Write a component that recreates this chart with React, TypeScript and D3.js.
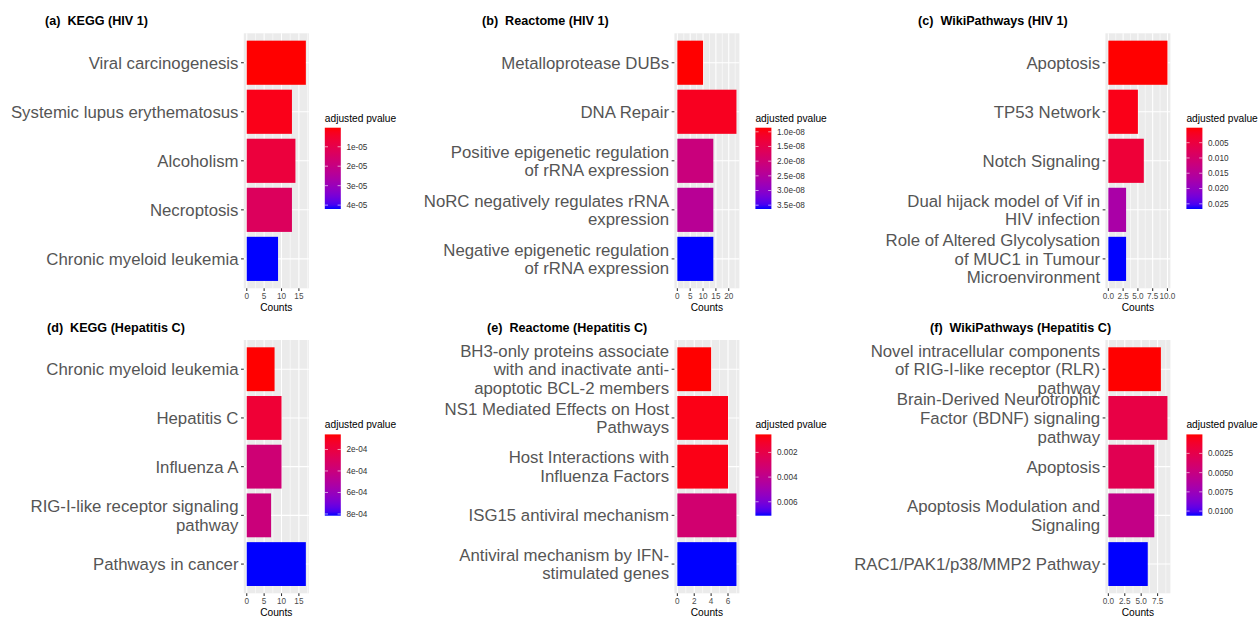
import React from "react";
import * as d3 from "d3";

// ---------- DATA ----------
const panelTitles = [
  "(a)  KEGG (HIV 1)",
  "(b)  Reactome (HIV 1)",
  "(c)  WikiPathways (HIV 1)",
  "(d)  KEGG (Hepatitis C)",
  "(e)  Reactome (Hepatitis C)",
  "(f)  WikiPathways (Hepatitis C)",
];

const keggHivTerms = [
  "Viral carcinogenesis",
  "Systemic lupus erythematosus",
  "Alcoholism",
  "Necroptosis",
  "Chronic myeloid leukemia",
];
const keggHivCounts = [17, 13, 14, 13, 9];
const keggHivPadj = [2e-7, 2.2e-6, 7.5e-6, 1.3e-5, 4.2e-5];
const keggHivBreaks = [1e-5, 2e-5, 3e-5, 4e-5];
const keggHivBreakLabels = ["1e-05", "2e-05", "3e-05", "4e-05"];
const keggHivXTicks = [0, 5, 10, 15];
const keggHivXLabels = ["0", "5", "10", "15"];

const reactomeHivTerms = [
  "Metalloprotease DUBs",
  "DNA Repair",
  "Positive epigenetic regulation\nof rRNA expression",
  "NoRC negatively regulates rRNA\nexpression",
  "Negative epigenetic regulation\nof rRNA expression",
];
const reactomeHivCounts = [10, 23, 14, 14, 14];
const reactomeHivPadj = [0.86e-8, 1.05e-8, 2.1e-8, 2.4e-8, 3.63e-8];
const reactomeHivBreaks = [1.0e-8, 1.5e-8, 2.0e-8, 2.5e-8, 3.0e-8, 3.5e-8];
const reactomeHivBreakLabels = ["1.0e-08", "1.5e-08", "2.0e-08", "2.5e-08", "3.0e-08", "3.5e-08"];
const reactomeHivXTicks = [0, 5, 10, 15, 20];
const reactomeHivXLabels = ["0", "5", "10", "15", "20"];

const wikiHivTerms = [
  "Apoptosis",
  "TP53 Network",
  "Notch Signaling",
  "Dual hijack model of Vif in\nHIV infection",
  "Role of Altered Glycolysation\nof MUC1 in Tumour\nMicroenvironment",
];
const wikiHivCounts = [10, 5, 6, 3, 3];
const wikiHivPadj = [0.0001, 0.0013, 0.0042, 0.017, 0.0267];
const wikiHivBreaks = [0.005, 0.01, 0.015, 0.02, 0.025];
const wikiHivBreakLabels = ["0.005", "0.010", "0.015", "0.020", "0.025"];
const wikiHivXTicks = [0, 2.5, 5, 7.5, 10];
const wikiHivXLabels = ["0.0", "2.5", "5.0", "7.5", "10.0"];

const keggHcvTerms = [
  "Chronic myeloid leukemia",
  "Hepatitis C",
  "Influenza A",
  "RIG-I-like receptor signaling\npathway",
  "Pathways in cancer",
];
const keggHcvCounts = [8, 10, 10, 7, 17];
const keggHcvPadj = [6e-5, 1.7e-4, 3.7e-4, 3.9e-4, 8.16e-4];
const keggHcvBreaks = [2e-4, 4e-4, 6e-4, 8e-4];
const keggHcvBreakLabels = ["2e-04", "4e-04", "6e-04", "8e-04"];
const keggHcvXTicks = [0, 5, 10, 15];
const keggHcvXLabels = ["0", "5", "10", "15"];

const reactomeHcvTerms = [
  "BH3-only proteins associate\nwith and inactivate anti-\napoptotic BCL-2 members",
  "NS1 Mediated Effects on Host\nPathways",
  "Host Interactions with\nInfluenza Factors",
  "ISG15 antiviral mechanism",
  "Antiviral mechanism by IFN-\nstimulated genes",
];
const reactomeHcvCounts = [4, 6, 6, 7, 7];
const reactomeHcvPadj = [0.00054, 0.0008, 0.0008, 0.0031, 0.00713];
const reactomeHcvBreaks = [0.002, 0.004, 0.006];
const reactomeHcvBreakLabels = ["0.002", "0.004", "0.006"];
const reactomeHcvXTicks = [0, 2, 4, 6];
const reactomeHcvXLabels = ["0", "2", "4", "6"];

const wikiHcvTerms = [
  "Novel intracellular components\nof RIG-I-like receptor (RLR)\npathway",
  "Brain-Derived Neurotrophic\nFactor (BDNF) signaling\npathway",
  "Apoptosis",
  "Apoptosis Modulation and\nSignaling",
  "RAC1/PAK1/p38/MMP2 Pathway",
];
const wikiHcvCounts = [8, 9, 7, 7, 6];
const wikiHcvPadj = [0.00003, 0.0022, 0.0028, 0.0052, 0.0106];
const wikiHcvBreaks = [0.0025, 0.005, 0.0075, 0.01];
const wikiHcvBreakLabels = ["0.0025", "0.0050", "0.0075", "0.0100"];
const wikiHcvXTicks = [0, 2.5, 5, 7.5];
const wikiHcvXLabels = ["0.0", "2.5", "5.0", "7.5"];

// ---------- LAYOUT ----------
const W = 1258;
const H = 618;
const FONT = "'Liberation Sans', Arial, Helvetica, sans-serif";
const PLOT_W = 65;
const LOW = "#FF0000";
const HIGH = "#0000FF";

type Layout = { plotLeft: number; plotTop: number; plotH: number; titleX: number; titleY: number };
const layouts: Layout[] = [
  { plotLeft: 243.8, plotTop: 33.3, plotH: 255, titleX: 45, titleY: 24.5 },
  { plotLeft: 674.4, plotTop: 33.3, plotH: 255, titleX: 482, titleY: 24.5 },
  { plotLeft: 1105.4, plotTop: 33.3, plotH: 255, titleX: 918, titleY: 24.5 },
  { plotLeft: 243.8, plotTop: 340, plotH: 253.3, titleX: 47, titleY: 331.5 },
  { plotLeft: 674.4, plotTop: 340, plotH: 253.3, titleX: 487, titleY: 331.5 },
  { plotLeft: 1105.4, plotTop: 340, plotH: 253.3, titleX: 930, titleY: 331.5 },
];

type PanelProps = {
  id: string;
  title: string;
  terms: string[];
  counts: number[];
  padj: number[];
  breaks: number[];
  breakLabels: string[];
  xTicks: number[];
  xLabels: string[];
  layout: Layout;
};

function Panel(p: PanelProps) {
  const { plotLeft, plotTop, plotH, titleX, titleY } = p.layout;
  const plotRight = plotLeft + PLOT_W;
  const plotBottom = plotTop + plotH;
  const maxC = d3.max(p.counts) as number;
  const x = d3.scaleLinear().domain([-0.05 * maxC, 1.05 * maxC]).range([plotLeft, plotRight]);
  const y = d3
    .scaleBand<string>()
    .domain(p.terms)
    .range([plotTop, plotBottom])
    .paddingInner(0.1)
    .paddingOuter(0.15);
  const pMin = d3.min(p.padj) as number;
  const pMax = d3.max(p.padj) as number;
  const color = d3
    .scaleLinear<string>()
    .domain([pMin, pMax])
    .range([LOW, HIGH])
    .interpolate(d3.interpolateLab);

  const step = p.xTicks[1] - p.xTicks[0];
  const [d0, d1] = x.domain();
  const minor: number[] = [];
  for (let v = p.xTicks[0] - step / 2; v <= d1; v += step) {
    if (v >= d0) minor.push(v);
  }

  const legLeft = plotRight + 16;
  const legW = 16;
  const barTop = plotTop + 94.4;
  const barH = 81.3;
  const ly = d3.scaleLinear().domain([pMin, pMax]).range([barTop, barTop + barH]);
  const gradId = `grad-${p.id}`;
  const stops = d3.range(0, 1.0001, 0.05);

  const fs = 16.8;
  const lineH = 18.6;

  return (
    <g>
      <text
        x={titleX}
        y={titleY}
        fontFamily={FONT}
        fontWeight="bold"
        fontSize={12.6}
        fill="#000"
        style={{ whiteSpace: "pre" }}
        xmlSpace="preserve"
      >
        {p.title}
      </text>
      {/* panel background */}
      <rect x={plotLeft} y={plotTop} width={PLOT_W} height={plotH} fill="#EBEBEB" />
      {minor.map((v) => (
        <line key={"mn" + v} x1={x(v)} x2={x(v)} y1={plotTop} y2={plotBottom} stroke="#fff" strokeWidth={0.55} />
      ))}
      {p.xTicks.map((v) => (
        <line key={"mj" + v} x1={x(v)} x2={x(v)} y1={plotTop} y2={plotBottom} stroke="#fff" strokeWidth={1.07} />
      ))}
      {p.terms.map((t) => {
        const cy = (y(t) as number) + y.bandwidth() / 2;
        return <line key={"hg" + t} x1={plotLeft} x2={plotRight} y1={cy} y2={cy} stroke="#fff" strokeWidth={1.07} />;
      })}
      {/* bars */}
      {p.terms.map((t, i) => (
        <rect
          key={"bar" + t}
          x={x(0)}
          y={y(t) as number}
          width={x(p.counts[i]) - x(0)}
          height={y.bandwidth()}
          fill={color(p.padj[i])}
        />
      ))}
      {/* y axis */}
      {p.terms.map((t) => {
        const cy = (y(t) as number) + y.bandwidth() / 2;
        const lines = t.split("\n");
        const n = lines.length;
        return (
          <g key={"yl" + t}>
            <line x1={plotLeft - 2.75} x2={plotLeft} y1={cy} y2={cy} stroke="#333333" strokeWidth={1.07} />
            <text x={plotLeft - 5.3} textAnchor="end" fontFamily={FONT} fontSize={fs} fill="#555555">
              {lines.map((ln, k) => (
                <tspan key={k} x={plotLeft - 5.3} y={cy + 6 + (k - (n - 1) / 2) * lineH}>
                  {ln}
                </tspan>
              ))}
            </text>
          </g>
        );
      })}
      {/* x axis */}
      {p.xTicks.map((v, i) => (
        <g key={"xt" + v}>
          <line x1={x(v)} x2={x(v)} y1={plotBottom} y2={plotBottom + 2.75} stroke="#333333" strokeWidth={1.07} />
          <text x={x(v)} y={plotBottom + 10.5} textAnchor="middle" fontFamily={FONT} fontSize={8.2} fill="#4D4D4D">
            {p.xLabels[i]}
          </text>
        </g>
      ))}
      <text
        x={(plotLeft + plotRight) / 2}
        y={plotBottom + 22.3}
        textAnchor="middle"
        fontFamily={FONT}
        fontSize={10.2}
        fill="#000"
      >
        Counts
      </text>
      {/* legend */}
      <defs>
        <linearGradient id={gradId} x1="0" y1="0" x2="0" y2="1">
          {stops.map((s) => (
            <stop key={s} offset={s} stopColor={d3.interpolateLab(LOW, HIGH)(s)} />
          ))}
        </linearGradient>
      </defs>
      <text x={legLeft} y={barTop - 6.2} fontFamily={FONT} fontSize={10.2} fill="#000">
        adjusted pvalue
      </text>
      <rect x={legLeft} y={barTop} width={legW} height={barH} fill={`url(#${gradId})`} />
      {p.breaks.map((b, i) => (
        <g key={"lb" + b}>
          <line x1={legLeft} x2={legLeft + legW / 5} y1={ly(b)} y2={ly(b)} stroke="#fff" strokeWidth={0.6} />
          <line x1={legLeft + legW - legW / 5} x2={legLeft + legW} y1={ly(b)} y2={ly(b)} stroke="#fff" strokeWidth={0.6} />
          <text x={legLeft + legW + 5.6} y={ly(b) + 2.9} fontFamily={FONT} fontSize={8.2} fill="#333333">
            {p.breakLabels[i]}
          </text>
        </g>
      ))}
    </g>
  );
}

export default function App() {
  const panels: Omit<PanelProps, "layout" | "title" | "id">[] = [
    { terms: keggHivTerms, counts: keggHivCounts, padj: keggHivPadj, breaks: keggHivBreaks, breakLabels: keggHivBreakLabels, xTicks: keggHivXTicks, xLabels: keggHivXLabels },
    { terms: reactomeHivTerms, counts: reactomeHivCounts, padj: reactomeHivPadj, breaks: reactomeHivBreaks, breakLabels: reactomeHivBreakLabels, xTicks: reactomeHivXTicks, xLabels: reactomeHivXLabels },
    { terms: wikiHivTerms, counts: wikiHivCounts, padj: wikiHivPadj, breaks: wikiHivBreaks, breakLabels: wikiHivBreakLabels, xTicks: wikiHivXTicks, xLabels: wikiHivXLabels },
    { terms: keggHcvTerms, counts: keggHcvCounts, padj: keggHcvPadj, breaks: keggHcvBreaks, breakLabels: keggHcvBreakLabels, xTicks: keggHcvXTicks, xLabels: keggHcvXLabels },
    { terms: reactomeHcvTerms, counts: reactomeHcvCounts, padj: reactomeHcvPadj, breaks: reactomeHcvBreaks, breakLabels: reactomeHcvBreakLabels, xTicks: reactomeHcvXTicks, xLabels: reactomeHcvXLabels },
    { terms: wikiHcvTerms, counts: wikiHcvCounts, padj: wikiHcvPadj, breaks: wikiHcvBreaks, breakLabels: wikiHcvBreakLabels, xTicks: wikiHcvXTicks, xLabels: wikiHcvXLabels },
  ];
  return (
    <svg
      width={W}
      height={H}
      viewBox={`0 0 ${W} ${H}`}
      style={{ position: "absolute", left: 0, top: 0, background: "#fff", display: "block" }}
    >
      <rect x={0} y={0} width={W} height={H} fill="#fff" />
      {panels.map((pp, i) => (
        <Panel key={i} id={"p" + i} title={panelTitles[i]} layout={layouts[i]} {...pp} />
      ))}
    </svg>
  );
}
